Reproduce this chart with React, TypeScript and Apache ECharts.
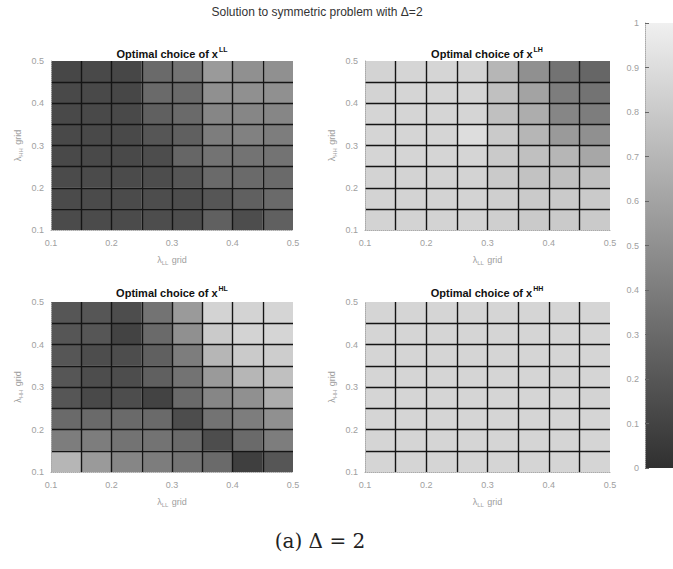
import React, { useEffect, useRef } from "react";
import * as echarts from "echarts";

// ---- data ----
const cellEdges = [0.1, 0.15, 0.2, 0.25, 0.3, 0.35, 0.4, 0.45]; // lower/left cell edges
const cellSize = 0.05;
const axisTicks = [0.1, 0.2, 0.3, 0.4, 0.5];
const colorbarRange = [0, 1];

const mainTitle = "Solution to symmetric problem with Δ=2";
const caption = "(a) Δ = 2";
const panelTitles = ["LL", "LH", "HL", "HH"];

// rows listed top (0.45–0.5) to bottom (0.1–0.15), columns left to right
const xLL = [
  [0.12, 0.13, 0.12, 0.3, 0.35, 0.55, 0.5, 0.5],
  [0.13, 0.13, 0.12, 0.3, 0.3, 0.5, 0.5, 0.5],
  [0.13, 0.13, 0.13, 0.25, 0.3, 0.45, 0.45, 0.45],
  [0.13, 0.13, 0.13, 0.2, 0.25, 0.4, 0.42, 0.4],
  [0.13, 0.13, 0.13, 0.15, 0.28, 0.35, 0.35, 0.35],
  [0.14, 0.14, 0.14, 0.15, 0.2, 0.3, 0.3, 0.3],
  [0.14, 0.14, 0.14, 0.15, 0.15, 0.2, 0.25, 0.3],
  [0.14, 0.14, 0.14, 0.15, 0.15, 0.25, 0.15, 0.25],
];
const xLH = [
  [0.85, 0.86, 0.86, 0.85, 0.7, 0.5, 0.35, 0.28],
  [0.85, 0.86, 0.86, 0.86, 0.75, 0.6, 0.4, 0.35],
  [0.86, 0.86, 0.86, 0.86, 0.75, 0.65, 0.45, 0.4],
  [0.86, 0.86, 0.86, 0.9, 0.8, 0.7, 0.55, 0.5],
  [0.86, 0.86, 0.86, 0.86, 0.8, 0.75, 0.7, 0.62],
  [0.85, 0.85, 0.85, 0.85, 0.8, 0.76, 0.75, 0.75],
  [0.85, 0.85, 0.85, 0.85, 0.83, 0.8, 0.8, 0.8],
  [0.85, 0.85, 0.85, 0.85, 0.83, 0.8, 0.8, 0.8],
];
const xHL = [
  [0.2, 0.2, 0.15, 0.35, 0.55, 0.85, 0.85, 0.86],
  [0.2, 0.2, 0.1, 0.3, 0.5, 0.8, 0.85, 0.86],
  [0.2, 0.15, 0.15, 0.25, 0.4, 0.7, 0.8, 0.82],
  [0.2, 0.15, 0.15, 0.25, 0.35, 0.55, 0.7, 0.75],
  [0.2, 0.13, 0.15, 0.1, 0.3, 0.45, 0.5, 0.65],
  [0.3, 0.3, 0.3, 0.3, 0.15, 0.35, 0.4, 0.5],
  [0.4, 0.4, 0.35, 0.35, 0.3, 0.15, 0.3, 0.4],
  [0.7, 0.55, 0.45, 0.4, 0.35, 0.3, 0.08, 0.2],
];
const xHH = [
  [0.86, 0.86, 0.86, 0.86, 0.86, 0.86, 0.86, 0.86],
  [0.86, 0.86, 0.86, 0.86, 0.86, 0.86, 0.86, 0.86],
  [0.86, 0.86, 0.86, 0.86, 0.86, 0.86, 0.86, 0.86],
  [0.86, 0.86, 0.86, 0.86, 0.86, 0.86, 0.85, 0.86],
  [0.86, 0.86, 0.86, 0.86, 0.86, 0.86, 0.86, 0.85],
  [0.86, 0.86, 0.86, 0.86, 0.86, 0.86, 0.86, 0.86],
  [0.86, 0.86, 0.86, 0.86, 0.86, 0.86, 0.86, 0.86],
  [0.86, 0.86, 0.86, 0.86, 0.86, 0.86, 0.86, 0.86],
];
const panels = [xLL, xLH, xHL, xHH];

// ---- style ----
const LO = "#303030";
const HI = "#f0f0f0";
const FONT = "'Liberation Sans', Arial, sans-serif";
const gridBoxes = [
  { left: 51, top: 61, width: 242, height: 169 },
  { left: 365, top: 61, width: 245, height: 169 },
  { left: 51, top: 302, width: 242, height: 170 },
  { left: 365, top: 302, width: 245, height: 170 },
];
const titleCenters = [
  [172, 46],
  [487, 46],
  [172, 285],
  [487, 285],
];

function toCells(m: number[][]) {
  const out: number[][] = [];
  const n = m.length;
  m.forEach((row, r) => {
    row.forEach((v, c) => {
      out.push([cellEdges[c], cellEdges[n - 1 - r], v]);
    });
  });
  return out;
}

const isMajor = (v: number) => Math.abs(v * 10 - Math.round(v * 10)) < 1e-6;

export default function App() {
  const ref = useRef<HTMLDivElement>(null);
  useEffect(() => {
    if (!ref.current) return;
    const chart = echarts.init(ref.current, null, { renderer: "svg" });

    const tickLabel = {
      color: "#a0a0a0",
      fontSize: 9,
      fontFamily: FONT,
      formatter: (v: number) => (isMajor(v) ? String(Math.round(v * 10) / 10) : ""),
    };
    const nameRich = {
      a: { fontSize: 9, color: "#a0a0a0", fontFamily: FONT },
      s: { fontSize: 6, color: "#a0a0a0", fontFamily: FONT, padding: [6, 0, 0, 0] },
    };

    const xAxes: any[] = [];
    const yAxes: any[] = [];
    const series: any[] = [];
    gridBoxes.forEach((_, i) => {
      const common = {
        gridIndex: i,
        type: "value",
        min: axisTicks[0],
        max: axisTicks[axisTicks.length - 1],
        interval: cellSize,
        z: 10,
        axisLine: { show: true, lineStyle: { color: "#aaa", type: "dotted", width: 1 } },
        axisTick: { show: false },
        splitLine: {
          show: true,
          showMinLine: false,
          showMaxLine: false,
          lineStyle: { color: "#151515", width: 1.4 },
        },
      };
      xAxes.push({
        ...common,
        axisLabel: { ...tickLabel, margin: 8 },
        name: "{a|λ}{s|LL} {a|grid}",
        nameLocation: "middle",
        nameGap: 24,
        nameTextStyle: { rich: nameRich },
      });
      yAxes.push({
        ...common,
        axisLabel: { ...tickLabel, margin: 7 },
        name: "{a|λ}{s|HH} {a|grid}",
        nameLocation: "middle",
        nameGap: 27,
        nameRotate: 90,
        nameTextStyle: { rich: nameRich },
      });
      series.push({
        type: "custom",
        xAxisIndex: i,
        yAxisIndex: i,
        data: toCells(panels[i]),
        encode: { x: 0, y: 1 },
        renderItem: (params: any, api: any) => {
          const x0 = api.value(0);
          const y0 = api.value(1);
          const p1 = api.coord([x0, y0 + cellSize]);
          const p2 = api.coord([x0 + cellSize, y0]);
          return {
            type: "rect",
            shape: { x: p1[0], y: p1[1], width: p2[0] - p1[0], height: p2[1] - p1[1] },
            style: { fill: api.visual("color"), stroke: null },
          };
        },
      });
    });

    // colorbar
    xAxes.push({ gridIndex: 4, type: "value", min: 0, max: 1, show: false });
    yAxes.push({
      gridIndex: 4,
      type: "value",
      min: colorbarRange[0],
      max: colorbarRange[1],
      interval: 0.1,
      z: 10,
      axisLine: { show: true, lineStyle: { color: "#aaa", type: "dotted" } },
      axisTick: { show: true, inside: true, length: 4, lineStyle: { color: "#666" } },
      splitLine: { show: false },
      axisLabel: { color: "#a0a0a0", fontSize: 9, fontFamily: FONT, margin: 6 },
    });
    series.push({
      type: "custom",
      xAxisIndex: 4,
      yAxisIndex: 4,
      data: [[0, colorbarRange[0], colorbarRange[1]]],
      renderItem: (params: any, api: any) => {
        const pb = api.coord([0, api.value(1)]);
        const pt = api.coord([1, api.value(2)]);
        return {
          type: "rect",
          shape: { x: pb[0], y: pt[1], width: pt[0] - pb[0], height: pb[1] - pt[1] },
          style: {
            fill: new echarts.graphic.LinearGradient(0, 0, 0, 1, [
              { offset: 0, color: HI },
              { offset: 1, color: LO },
            ]),
          },
        };
      },
    });

    const titles: any[] = [
      {
        text: mainTitle,
        left: 317,
        top: 6,
        textAlign: "center",
        padding: 0,
        textStyle: { fontSize: 12, fontWeight: "normal", color: "#333", fontFamily: FONT },
      },
      {
        text: caption,
        left: 320,
        top: 531,
        textAlign: "center",
        padding: 0,
        textStyle: { fontSize: 20, fontWeight: "normal", color: "#222", fontFamily: "'DejaVu Serif', 'Liberation Serif', serif" },
      },
    ];
    panelTitles.forEach((t, i) => {
      titles.push({
        text: `{b|Optimal choice of x}{s|${t}}`,
        left: titleCenters[i][0],
        top: titleCenters[i][1],
        textAlign: "center",
        padding: 0,
        textStyle: {
          rich: {
            b: { fontSize: 11, fontWeight: "bold", color: "#111", fontFamily: FONT, lineHeight: 14 },
            s: { fontSize: 7, fontWeight: "bold", color: "#111", fontFamily: FONT, padding: [0, 0, 8, 1] },
          },
        },
      });
    });

    chart.setOption({
      animation: false,
      textStyle: { fontFamily: FONT },
      title: titles,
      grid: [
        ...gridBoxes.map((g) => ({ ...g, containLabel: false })),
        { left: 645, top: 23, width: 40, height: 445 },
      ],
      xAxis: xAxes,
      yAxis: yAxes,
      visualMap: {
        type: "continuous",
        show: false,
        min: 0,
        max: 1,
        dimension: 2,
        seriesIndex: [0, 1, 2, 3],
        inRange: { color: [LO, HI] },
      },
      series,
    });
    return () => chart.dispose();
  }, []);

  return (
    <div
      ref={ref}
      style={{ position: "fixed", left: 0, top: 0, width: 673, height: 569, background: "#fff" }}
    />
  );
}
